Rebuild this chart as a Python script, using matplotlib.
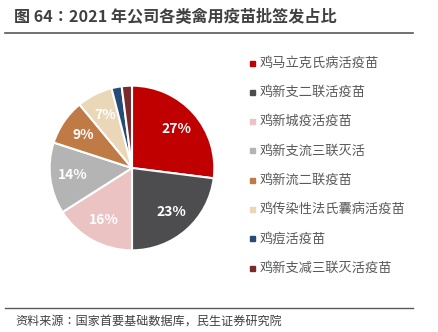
import matplotlib
matplotlib.use("Agg")
import matplotlib.pyplot as plt
from matplotlib.patches import Rectangle
from matplotlib.lines import Line2D

plt.rcParams['font.family'] = ['Noto Sans CJK SC', 'DejaVu Sans']

# data
categories = ["鸡马立克氏病活疫苗", "鸡新支二联活疫苗", "鸡新城疫活疫苗", "鸡新支流三联灭活",
              "鸡新流二联疫苗", "鸡传染性法氏囊病活疫苗", "鸡痘活疫苗", "鸡新支减三联灭活疫苗"]
shares = [27, 23, 16, 14, 9, 7, 2, 2]
colors = ["#C00000", "#4D4D4F", "#EBC3C3", "#B4B4B4", "#C07A45", "#EAD7B8", "#264B75", "#7A2A2A"]

title = "图 64：2021 年公司各类禽用疫苗批签发占比"
source = "资料来源：国家首要基础数据库，民生证券研究院"

W, H = 438, 332
fig = plt.figure(figsize=(W / 100, H / 100), dpi=100)


def fx(px):
    return px / W


def fy(py):
    return 1 - py / H


# title and rules
fig.text(fx(14), fy(17), title, fontsize=11.6, fontweight="bold", color="#404040", va="center",
         family=['Noto Sans CJK JP', 'DejaVu Sans'])
fig.add_artist(Line2D([fx(5), fx(413)], [fy(33), fy(33)], color="#595959", lw=1.2))
fig.add_artist(Line2D([fx(5), fx(413)], [fy(307.5), fy(307.5)], color="#595959", lw=1.0))
fig.text(fx(15), fy(321), source, fontsize=8.7, color="#404040", va="center",
         family=['Noto Sans CJK JP', 'DejaVu Sans'])

# pie
cx, cy, r = 132, 168, 84
ax = fig.add_axes([fx(cx - r), fy(cy + r), 2 * r / W, 2 * r / H])
wedges, texts = ax.pie(shares, colors=colors, startangle=90, counterclock=False,
                       labels=[f"{v}%" if v >= 5 else "" for v in shares],
                       labeldistance=0.72,
                       wedgeprops=dict(edgecolor="white", linewidth=1.5))
for t in texts:
    t.set_color("white")
    t.set_fontsize(10)
    t.set_fontweight("bold")
    t.set_ha("center")
    t.set_va("center")
ax.set_xlim(-1.02, 1.02)
ax.set_ylim(-1.02, 1.02)
ax.axis("off")

# legend
y0, dy = 63, 29.3
for i, (name, c) in enumerate(zip(categories, colors)):
    y = y0 + i * dy
    fig.add_artist(Rectangle((fx(249.5), fy(y + 2.5)), 5 / W, 5 / H, color=c,
                             transform=fig.transFigure))
    fig.text(fx(259.5), fy(y), name, fontsize=9.5, color="#595959", va="center")

fig.savefig("out.png", dpi=100)
